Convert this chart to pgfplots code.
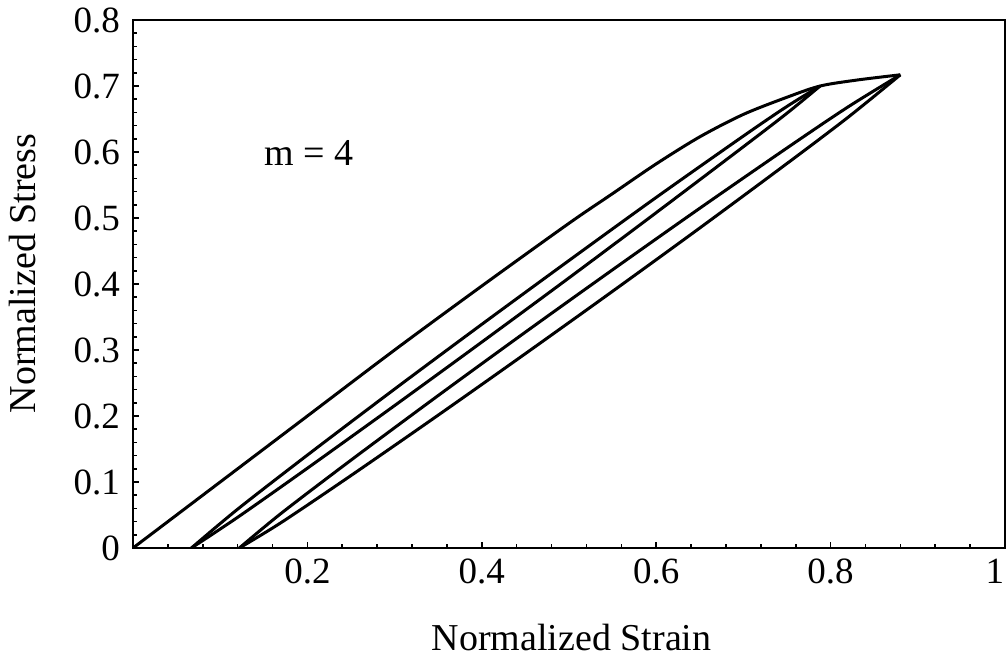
\documentclass[border=0pt]{standalone}
\usepackage{fontspec}
\setmainfont{Liberation Serif}
\usepackage{pgfplots}
\pgfplotsset{compat=1.18}
\begin{document}
\begin{tikzpicture}
\begin{axis}[
  at={(0,0)}, anchor=south west,
  scale only axis, width=436pt, height=264pt,
  xmin=0, xmax=1, ymin=0, ymax=0.8,
  xtick={0,0.2,0.4,0.6,0.8,1}, xticklabels={,0.2,0.4,0.6,0.8,\makebox[0pt][r]{1\hspace{0.5pt}}},
  ytick={0,0.1,0.2,0.3,0.4,0.5,0.6,0.7,0.8},
  yticklabels={0,0.1,0.2,0.3,0.4,0.5,0.6,0.7,0.8},
  minor x tick num=4, minor y tick num=4,
  tick pos=left, tick align=inside,
  major tick length=3.2pt, minor tick length=1.8pt,
  axis line style={line width=1.1pt},
  every tick/.style={black, line width=0.8pt},
  /pgf/number format/assume math mode=true,
  tick label style={font=\fontsize{18.5}{22}\selectfont},
  yticklabel style={xshift=-3pt},
  xticklabel style={yshift=-2pt},
  label style={font=\fontsize{19}{23}\selectfont},
  xlabel={Normalized Strain},
  ylabel={Normalized Stress},
  xlabel style={at={(axis description cs:0.503,-0.169)}, anchor=center},
  ylabel style={at={(axis description cs:-0.127,0.52)}, anchor=center},
]
% virgin loading curve
\addplot[black, line width=1.5pt, smooth, tension=0.5] coordinates {
(0,0) (0.1,0.1) (0.2,0.2) (0.3,0.3) (0.4,0.397) (0.5,0.492) (0.55,0.537)
(0.6,0.582) (0.65,0.623) (0.7,0.657) (0.75,0.683) (0.788,0.70) (0.83,0.709) (0.88,0.717)};
% first reload (upper)
\addplot[black, line width=1.5pt, smooth, tension=0.5] coordinates {
(0.067,0) (0.12,0.0588) (0.2,0.1408) (0.3,0.2408) (0.4,0.3389) (0.5,0.4356)
(0.6,0.5312) (0.7,0.6242) (0.75,0.6691) (0.788,0.70)};
% first unload (lower)
\addplot[black, line width=1.5pt, smooth, tension=0.5] coordinates {
(0.067,0) (0.12,0.0465) (0.2,0.1209) (0.3,0.2158) (0.4,0.3120) (0.5,0.4093)
(0.6,0.5081) (0.7,0.6080) (0.75,0.6588) (0.788,0.70)};
% second reload (upper)
\addplot[black, line width=1.5pt, smooth, tension=0.5] coordinates {
(0.122,0) (0.17,0.0526) (0.25,0.1331) (0.35,0.2310) (0.45,0.3271) (0.55,0.4216)
(0.65,0.5148) (0.75,0.6061) (0.82,0.6683) (0.88,0.717)};
% second unload (lower)
\addplot[black, line width=1.5pt, smooth, tension=0.5] coordinates {
(0.122,0) (0.17,0.0386) (0.25,0.1098) (0.35,0.2013) (0.45,0.2945) (0.55,0.3890)
(0.65,0.4849) (0.75,0.5826) (0.82,0.6526) (0.88,0.717)};
\node[font=\fontsize{19}{23}\selectfont, anchor=center] at (axis cs:0.202,0.598) {m = 4};
\end{axis}
\pgfresetboundingbox
\path (-66.5pt,-55pt) rectangle (437.5pt,274pt);
\end{tikzpicture}
\end{document}
